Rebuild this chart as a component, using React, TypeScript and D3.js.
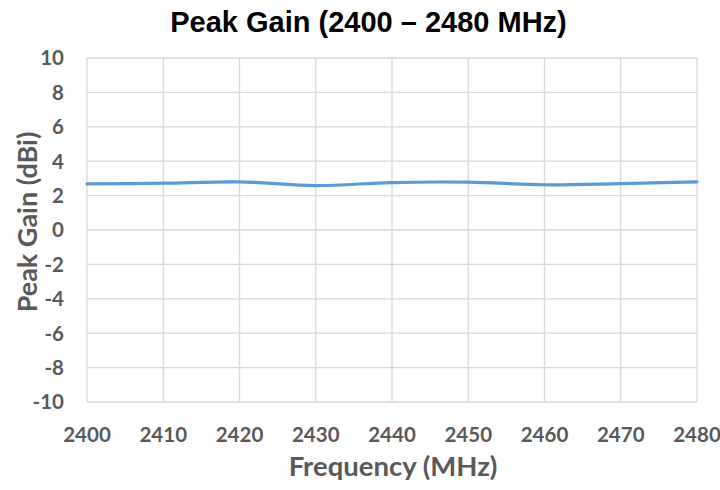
import React from "react";
import * as d3 from "d3";

const frequencies = [2400, 2410, 2420, 2430, 2440, 2450, 2460, 2470, 2480];
const gains = [2.68, 2.72, 2.8, 2.58, 2.76, 2.78, 2.63, 2.7, 2.8];
const yTicks = [10, 8, 6, 4, 2, 0, -2, -4, -6, -8, -10];

const W = 720, H = 490;
const left = 87, right = 697, top = 58, bottom = 402;

export default function App() {
  const x = d3.scaleLinear().domain([2400, 2480]).range([left, right]);
  const y = d3.scaleLinear().domain([-10, 10]).range([bottom, top]);
  const line = d3
    .line<number>()
    .x((_, i) => x(frequencies[i]))
    .y((d) => y(d))
    .curve(d3.curveCatmullRom.alpha(0.5));
  const tickFont = "Lato, 'Open Sans', sans-serif";
  return (
    <svg width={W} height={H} style={{ position: "absolute", left: 0, top: 0, background: "#fff" }}>
      <text x={368.5} y={32} textAnchor="middle" fontFamily="'Liberation Sans', Arial, sans-serif" fontWeight="bold" fontSize={29} fill="#000">
        Peak Gain (2400 – 2480 MHz)
      </text>
      {yTicks.map((t) => (
        <line key={"h" + t} x1={left} x2={right} y1={y(t)} y2={y(t)} stroke="#D9D9D9" strokeWidth={1.3} />
      ))}
      {frequencies.map((f) => (
        <line key={"v" + f} x1={x(f)} x2={x(f)} y1={top} y2={bottom} stroke="#D9D9D9" strokeWidth={1.3} />
      ))}
      {yTicks.map((t) => (
        <text key={"yt" + t} x={64} y={y(t)} dy="0.36em" textAnchor="end" fontFamily={tickFont} fontWeight="bold" fontSize={20.5} fill="#595959">
          {t}
        </text>
      ))}
      {frequencies.map((f) => (
        <text key={"xt" + f} x={x(f)} y={442} textAnchor="middle" fontFamily={tickFont} fontWeight="bold" fontSize={20.5} fill="#595959">
          {f}
        </text>
      ))}
      <path d={line(gains) ?? ""} fill="none" stroke="#5B9BD5" strokeWidth={3.2} strokeLinecap="round" />
      <text x={393} y={476} textAnchor="middle" fontFamily={tickFont} fontWeight="bold" fontSize={27.5} fill="#595959">
        Frequency (MHz)
      </text>
      <text transform={`translate(37,222) rotate(-90)`} textAnchor="middle" fontFamily={tickFont} fontWeight="bold" fontSize={27} fill="#595959">
        Peak Gain (dBi)
      </text>
    </svg>
  );
}
